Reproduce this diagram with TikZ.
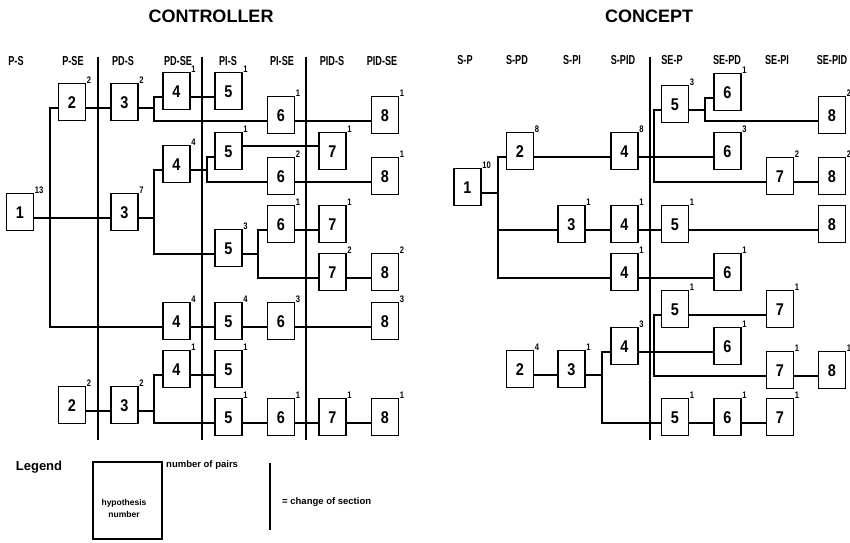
\documentclass[tikz,border=0pt]{standalone}
\usepackage{fontspec}
\setmainfont{Liberation Sans}
\newfontfamily\digf{Liberation Sans Bold}[FakeStretch=0.85]
\newfontfamily\hdrf{Liberation Sans Bold}[FakeStretch=0.7]
\newfontfamily\supf{Liberation Sans Bold}[FakeStretch=0.8]
\tikzset{
 box/.style={draw, line width=1.5pt, fill=white, minimum width=27pt, minimum height=37pt,
   inner sep=0pt, text height=12pt, text depth=0pt,
   font=\digf\fontsize{17}{17}\selectfont, anchor=base},
 sup/.style={font=\supf\fontsize{9.5}{9.5}\selectfont, inner sep=0.5pt, yshift=-1.5pt},
 conn/.style={line width=1.2pt},
 divider/.style={line width=1.4pt},
 hdr/.style={font=\hdrf\fontsize{13}{13}\selectfont},
 ttl/.style={font=\bfseries\fontsize{18}{18}\selectfont},
 legtxt/.style={font=\bfseries\fontsize{9.5}{11}\selectfont, inner sep=0pt},
}
\newcommand\bx[5]{\node[box, label={[sup]north east:#5}] (#1) at (#2,#3) {#4};}
\begin{document}
\begin{tikzpicture}[x=1pt,y=-1pt]
\useasboundingbox (0,0) rectangle (850,542);
% titles
\node[ttl] (t1) at (211,16) {CONTROLLER};
\node[ttl] (t2) at (649,16) {CONCEPT};
% headers
\foreach \x/\t [count=\i] in {16/P-S,73/P-SE,123/PD-S,178/PD-SE,228/PI-S,282/PI-SE,332/PID-S,382/PID-SE}
  \node[hdr] (hc\i) at (\x,61) {\t};
\foreach \x/\t [count=\i] in {465/S-P,517/S-PD,572/S-PI,623/S-PID,672/SE-P,727/SE-PD,777/SE-PI,832/SE-PID}
  \node[hdr] (hk\i) at (\x,60) {\t};
% dividers
\draw[divider] (98,57) -- (98,440);
\draw[divider] (202,57) -- (202,440);
\draw[divider] (306,57) -- (306,440);
\draw[divider] (650,57) -- (650,440);

% ---------------- CONTROLLER ----------------
\bx{k1}{20}{218}{1}{13}
\bx{k2a}{72}{108}{2}{2}
\bx{k3a}{124.5}{108}{3}{2}
\bx{k4a}{176.5}{97}{4}{1}
\bx{k5a}{228.5}{97}{5}{1}
\bx{k6a}{281}{121}{6}{1}
\bx{k8a}{385}{121}{8}{1}
\bx{k3b}{124.5}{218}{3}{7}
\bx{k4b}{176.5}{170}{4}{4}
\bx{k5b}{228.5}{157}{5}{1}
\bx{k7b}{332.5}{157}{7}{1}
\bx{k6b}{281}{182}{6}{2}
\bx{k8b}{385}{182}{8}{1}
\bx{k5c}{228.5}{254}{5}{3}
\bx{k6c}{281}{230}{6}{1}
\bx{k7c}{332.5}{230}{7}{1}
\bx{k7d}{332.5}{278}{7}{2}
\bx{k8d}{385}{278}{8}{2}
\bx{k4e}{176.5}{327}{4}{4}
\bx{k5e}{228.5}{327}{5}{4}
\bx{k6e}{281}{327}{6}{3}
\bx{k8e}{385}{327}{8}{3}
\bx{k4f}{176.5}{375}{4}{1}
\bx{k5f}{228.5}{375}{5}{1}
\bx{k2g}{72}{411}{2}{2}
\bx{k3g}{124.5}{411}{3}{2}
\bx{k5g}{228.5}{423}{5}{1}
\bx{k6g}{281}{423}{6}{1}
\bx{k7g}{332.5}{423}{7}{1}
\bx{k8g}{385}{423}{8}{1}

\coordinate (jA) at (50,218);
\coordinate (jB) at (154,108);
\coordinate (jC) at (154,218);
\coordinate (jD) at (207,170);
\coordinate (jE) at (258,254);
\coordinate (jF) at (154,411);
\begin{scope}[conn]
\draw (k1.base east) -- (jA) -- (k3b.base west);
\draw (jA) |- (k2a.base west);
\draw (jA) |- (k4e.base west);
\draw (k2a.base east) -- (k3a.base west);
\draw (k3a.base east) -- (jB);
\draw (jB) |- (k4a.base west);
\draw (jB) |- (k6a.base west);
\draw (k4a.base east) -- (k5a.base west);
\draw (k6a.base east) -- (k8a.base west);
\draw (k3b.base east) -- (jC);
\draw (jC) |- (k4b.base west);
\draw (jC) |- (k5c.base west);
\draw (k4b.base east) -- (jD);
\draw (jD) |- (k5b.base west);
\draw (jD) |- (k6b.base west);
\draw ([yshift=11pt]k5b.base east) -- ([yshift=11pt]k7b.base west);
\draw (k6b.base east) -- (k8b.base west);
\draw (k5c.base east) -- (jE);
\draw (jE) |- (k6c.base west);
\draw (jE) |- (k7d.base west);
\draw (k6c.base east) -- (k7c.base west);
\draw (k7d.base east) -- (k8d.base west);
\draw (k4e.base east) -- (k5e.base west);
\draw (k5e.base east) -- (k6e.base west);
\draw (k6e.base east) -- (k8e.base west);
\draw (k2g.base east) -- (k3g.base west);
\draw (k3g.base east) -- (jF);
\draw (jF) |- (k4f.base west);
\draw (jF) |- (k5g.base west);
\draw (k4f.base east) -- (k5f.base west);
\draw (k5g.base east) -- (k6g.base west);
\draw (k6g.base east) -- (k7g.base west);
\draw (k7g.base east) -- (k8g.base west);
\end{scope}

% ---------------- CONCEPT ----------------
\bx{n1}{467.5}{193}{1}{10}
\bx{n2a}{520}{157}{2}{8}
\bx{n4a}{624.5}{157}{4}{8}
\bx{n5a}{675}{110}{5}{3}
\bx{n6a}{727.5}{98}{6}{1}
\bx{n8a}{832}{121}{8}{2}
\bx{n6b}{727.5}{157}{6}{3}
\bx{n7b}{780}{182}{7}{2}
\bx{n8b}{832}{182}{8}{2}
\bx{n3c}{571.5}{230}{3}{1}
\bx{n4c}{624.5}{230}{4}{1}
\bx{n5c}{675}{230}{5}{1}
\bx{n8c}{832}{230}{8}{}
\bx{n4d}{624.5}{278}{4}{1}
\bx{n6d}{727.5}{278}{6}{1}
\bx{n2e}{520}{375}{2}{4}
\bx{n3e}{571.5}{375}{3}{1}
\bx{n4e}{624.5}{352}{4}{3}
\bx{n5f}{675}{315}{5}{1}
\bx{n7f}{780}{315}{7}{1}
\bx{n6f}{727.5}{352}{6}{1}
\bx{n7g}{780}{376}{7}{1}
\bx{n8g}{832}{376}{8}{1}
\bx{n5h}{675}{423}{5}{1}
\bx{n6h}{727.5}{423}{6}{1}
\bx{n7h}{780}{423}{7}{1}

\coordinate (jP) at (498,193);
\coordinate (jQ) at (654,157);
\coordinate (jR) at (705,110);
\coordinate (jS) at (602,375);
\coordinate (jT) at (654,352);
\begin{scope}[conn]
\draw (n1.base east) -- (jP);
\draw (jP) |- (n2a.base west);
\draw (jP) |- (n4d.base west);
\draw (jP |- n3c.base west) -- (n3c.base west);
\draw (n2a.base east) -- (n4a.base west);
\draw (n4a.base east) -- (jQ) -- (n6b.base west);
\draw (jQ) |- (n5a.base west);
\draw (jQ) |- (n7b.base west);
\draw (n5a.base east) -- (jR);
\draw (jR) |- (n6a.base west);
\draw (jR) |- (n8a.base west);
\draw (n7b.base east) -- (n8b.base west);
\draw (n3c.base east) -- (n4c.base west);
\draw (n4c.base east) -- (n5c.base west);
\draw (n5c.base east) -- (n8c.base west);
\draw (n4d.base east) -- (n6d.base west);
\draw (n2e.base east) -- (n3e.base west);
\draw (n3e.base east) -- (jS);
\draw (jS) |- (n4e.base west);
\draw (jS) |- (n5h.base west);
\draw (n5h.base east) -- (n6h.base west);
\draw (n6h.base east) -- (n7h.base west);
\draw (n4e.base east) -- (jT) -- (n6f.base west);
\draw (jT) |- (n5f.base west);
\draw (jT) |- (n7g.base west);
\draw (n5f.base east) -- (n7f.base west);
\draw (n7g.base east) -- (n8g.base west);
\end{scope}

% ---------------- LEGEND ----------------
\node[font=\bfseries\fontsize{13}{13}\selectfont, inner sep=0pt] (lg) at (39,467) {Legend};
\node[draw, line width=1.3pt, minimum width=69pt, minimum height=77pt, inner sep=0pt] (lgbox) at (127.5,500.5) {};
\node[legtxt, font=\bfseries\fontsize{8.5}{12}\selectfont, align=center] (lgin) at (124,508) {hypothesis\\number};
\node[legtxt, anchor=west] (lgpairs) at (166,465) {number of pairs};
\draw[divider] (270,463) -- (270,530);
\node[legtxt, anchor=west] (lgsec) at (282,502) {= change of section};
\end{tikzpicture}
\end{document}
